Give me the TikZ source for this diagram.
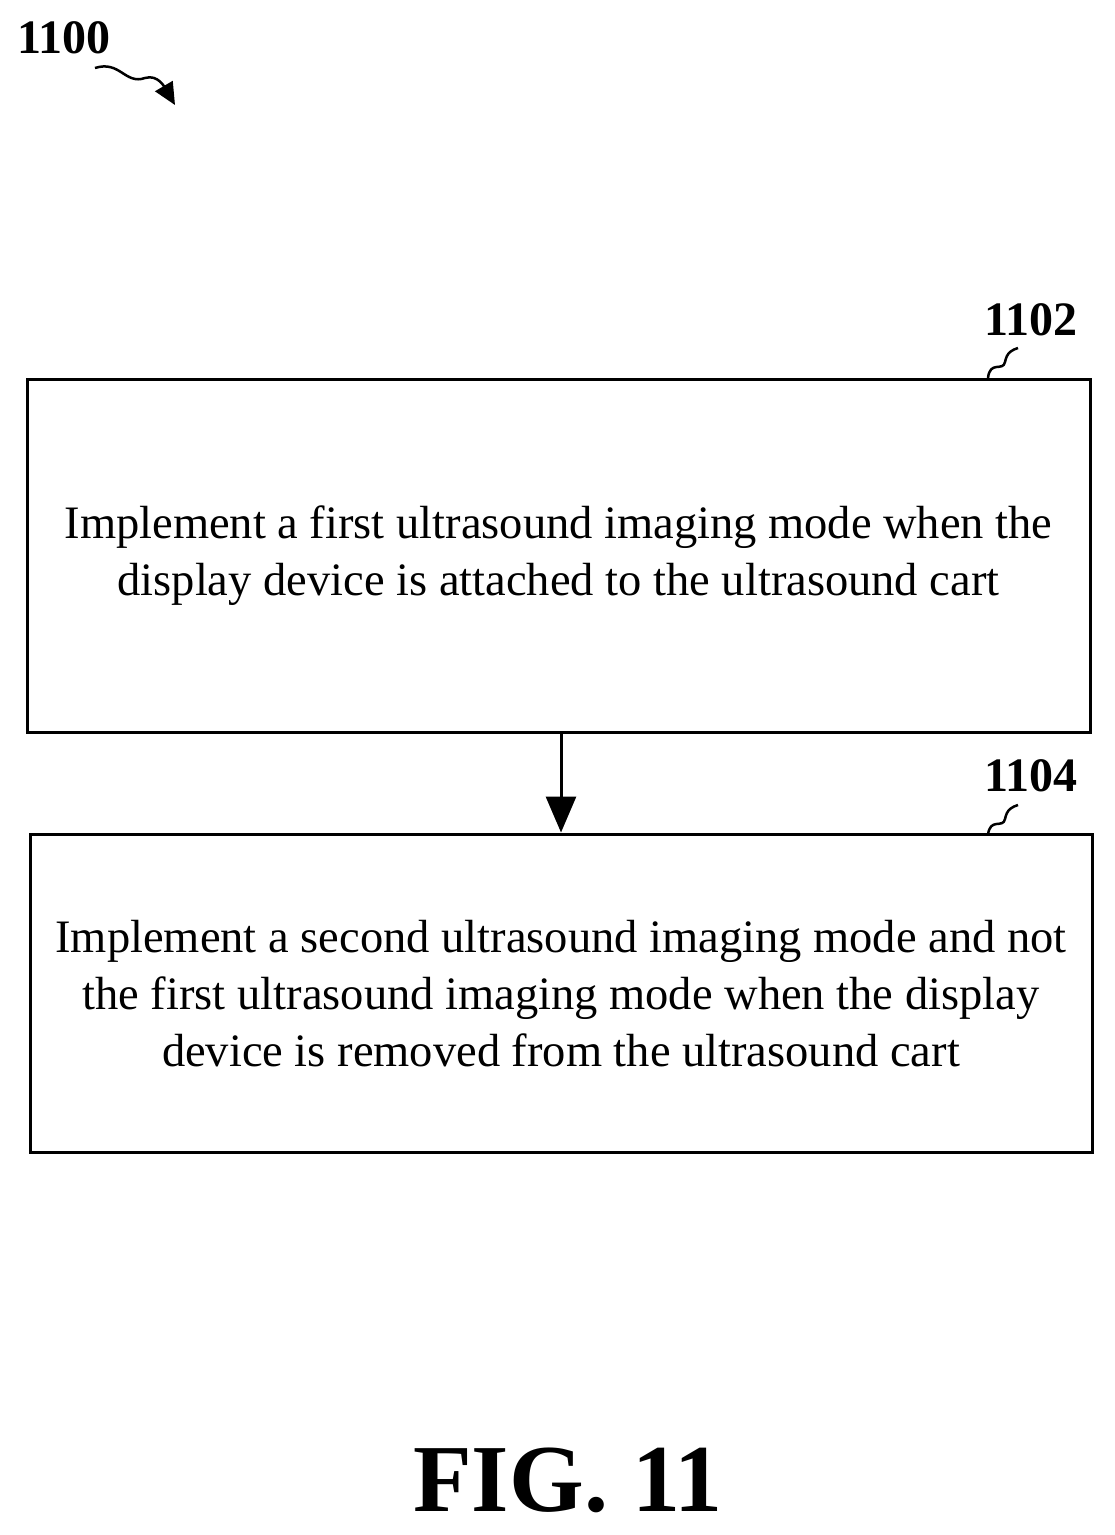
\documentclass[tikz,border=0pt]{standalone}
\usepackage{fontspec}
\setmainfont{Liberation Serif}
\usetikzlibrary{arrows.meta}
\begin{document}
\begin{tikzpicture}[x=1pt,y=-1pt,
  box/.style={draw,line width=3pt,inner sep=0pt},
  txt/.style={align=center,font=\fontsize{46.5}{57}\selectfont},
  lab/.style={font=\fontsize{48}{52}\selectfont\bfseries},
  sq/.style={line width=2.5pt}]
\useasboundingbox (0,0) rectangle (1115,1535);
\node[box,minimum width=1063pt,minimum height=353pt] (b1) at (558.5,555.5) {};
\node[txt] (t1) at (558.5,556) {Implement a first ultrasound imaging mode when the\\display device is attached to the ultrasound cart};
\node[box,minimum width=1062pt,minimum height=318pt] (b2) at (561,993) {};
\node[txt] (t2) at (561,994) {Implement a second ultrasound imaging mode and not\\the first ultrasound imaging mode when the display\\device is removed from the ultrasound cart};
\draw[line width=3pt,-{Triangle[length=36pt,width=30pt]}] (b1.south -| 561,0) -- (b2.north -| 561,0);
\node[lab] (l1) at (1031,320) {1102};
\coordinate (s1a) at (988,378); \coordinate (s1b) at (1018,348);
\draw[sq] (s1a) .. controls (990,360) and (1003,372) .. (1005,362) .. controls (1007,352) and (1012,350) .. (s1b);
\node[lab] (l2) at (1031,776) {1104};
\coordinate (s2a) at (988,835); \coordinate (s2b) at (1018,805);
\draw[sq] (s2a) .. controls (990,817) and (1003,829) .. (1005,819) .. controls (1007,809) and (1012,807) .. (s2b);
\node[lab] (l0) at (64,38) {1100};
\coordinate (a0) at (95,68); \coordinate (a1) at (175,105);
\draw[sq,-{Triangle[length=22pt,width=20pt]}] (a0) .. controls (120,60) and (125,85) .. (145,78) .. controls (158,74) and (165,88) .. (a1);
\node[font=\fontsize{96}{104}\selectfont\bfseries] (fig) at (568,1480) {FIG. 11};
\end{tikzpicture}
\end{document}
